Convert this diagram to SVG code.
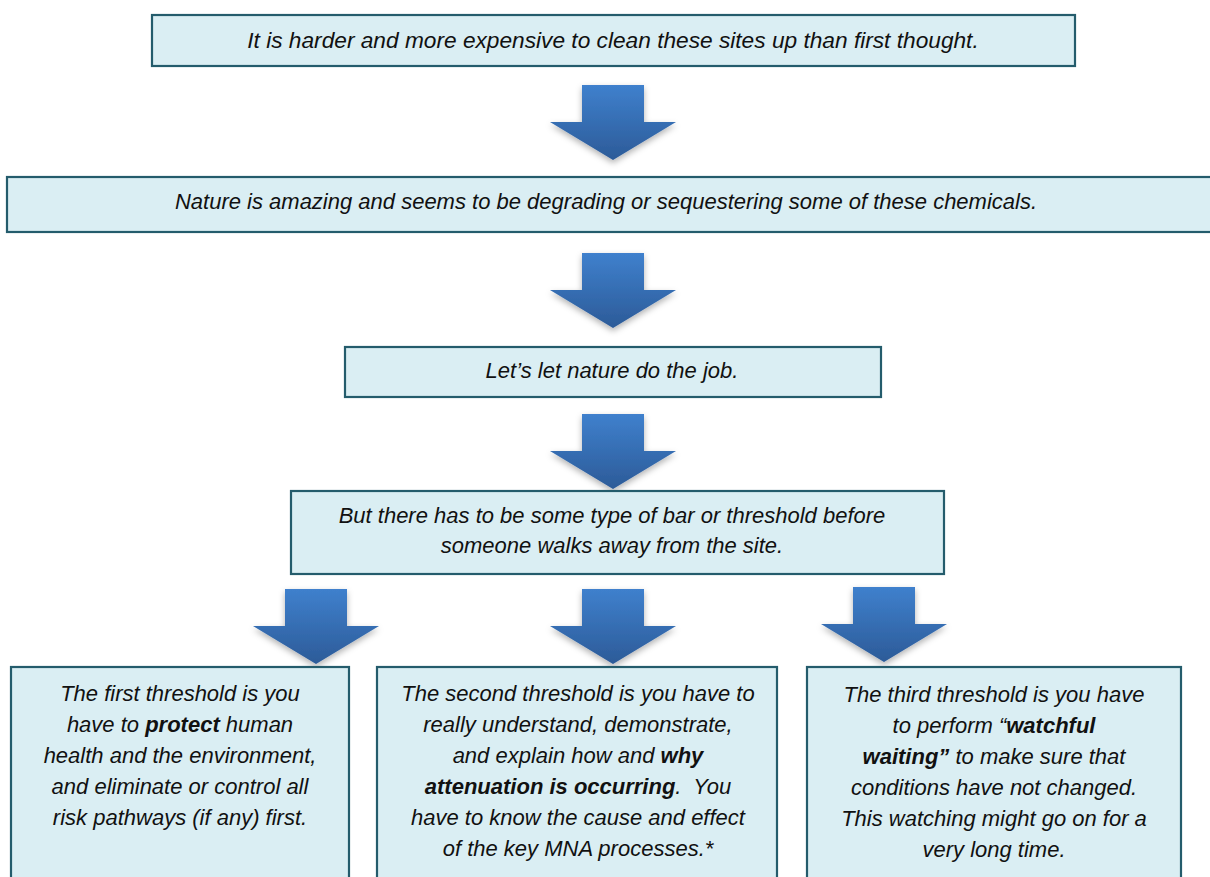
<svg xmlns="http://www.w3.org/2000/svg" xmlns:xlink="http://www.w3.org/1999/xlink" width="1210" height="877" viewBox="0 0 1210 877">
<defs>
<style>
.box{fill:#DAEEF3;stroke:#245C6C;stroke-width:2.2}
.t{font-family:"Liberation Sans",Arial,sans-serif;font-style:italic;font-size:22px;fill:#111;text-anchor:middle}
.b{font-weight:bold}
</style>
<linearGradient id="ag" x1="0" y1="0" x2="0" y2="1">
<stop offset="0" stop-color="#3F80CD"/>
<stop offset="1" stop-color="#2C5B98"/>
</linearGradient>
<filter id="sh" x="-30%" y="-30%" width="160%" height="170%">
<feDropShadow dx="0" dy="3" stdDeviation="3" flood-color="#000" flood-opacity="0.3"/>
</filter>
<path id="arrow" d="M-31,0 L31,0 L31,37 L63,37 L0,75 L-63,37 L-31,37 Z" fill="url(#ag)" filter="url(#sh)"/>
</defs>
<rect width="1210" height="877" fill="#fff"/>
<g id="connectors">
<use xlink:href="#arrow" transform="translate(613,85)"/>
<use xlink:href="#arrow" transform="translate(613,253)"/>
<use xlink:href="#arrow" transform="translate(613,414)"/>
<use xlink:href="#arrow" transform="translate(316,589)"/>
<use xlink:href="#arrow" transform="translate(613,589)"/>
<use xlink:href="#arrow" transform="translate(884,587)"/>
</g>
<g id="n1">
<rect class="box" x="152" y="15" width="923" height="51"/>
<text class="t" x="613" y="48" style="font-size:22.7px">It is harder and more expensive to clean these sites up than first thought.</text>
</g>
<g id="n2">
<rect class="box" x="7" y="177" width="1215" height="55"/>
<text class="t" x="606" y="209">Nature is amazing and seems to be degrading or sequestering some of these chemicals.</text>
</g>
<g id="n3">
<rect class="box" x="345" y="347" width="536" height="50"/>
<text class="t" x="612" y="378">Let’s let nature do the job.</text>
</g>
<g id="n4">
<rect class="box" x="291" y="491" width="653" height="83"/>
<text class="t" x="612" y="523">But there has to be some type of bar or threshold before</text>
<text class="t" x="612" y="553">someone walks away from the site.</text>
</g>
<g id="n5">
<rect class="box" x="11" y="667" width="338" height="230"/>
<text class="t" x="180" y="701">The first threshold is you</text>
<text class="t" x="180" y="732">have to <tspan class="b">protect</tspan> human</text>
<text class="t" x="180" y="763">health and the environment,</text>
<text class="t" x="180" y="794">and eliminate or control all</text>
<text class="t" x="180" y="825">risk pathways (if any) first.</text>
</g>
<g id="n6">
<rect class="box" x="377" y="667" width="400" height="230"/>
<text class="t" x="578" y="701">The second threshold is you have to</text>
<text class="t" x="578" y="732">really understand, demonstrate,</text>
<text class="t" x="578" y="763">and explain how and <tspan class="b">why</tspan></text>
<text class="t" x="578" y="794" xml:space="preserve"><tspan class="b">attenuation is occurring</tspan>.  You</text>
<text class="t" x="578" y="825">have to know the cause and effect</text>
<text class="t" x="578" y="856">of the key MNA processes.*</text>
</g>
<g id="n7">
<rect class="box" x="807" y="667" width="374" height="230"/>
<text class="t" x="994" y="702">The third threshold is you have</text>
<text class="t" x="994" y="733">to perform “<tspan class="b">watchful</tspan></text>
<text class="t" x="994" y="764"><tspan class="b">waiting”</tspan> to make sure that</text>
<text class="t" x="994" y="795">conditions have not changed.</text>
<text class="t" x="994" y="826">This watching might go on for a</text>
<text class="t" x="994" y="857">very long time.</text>
</g>
</svg>
